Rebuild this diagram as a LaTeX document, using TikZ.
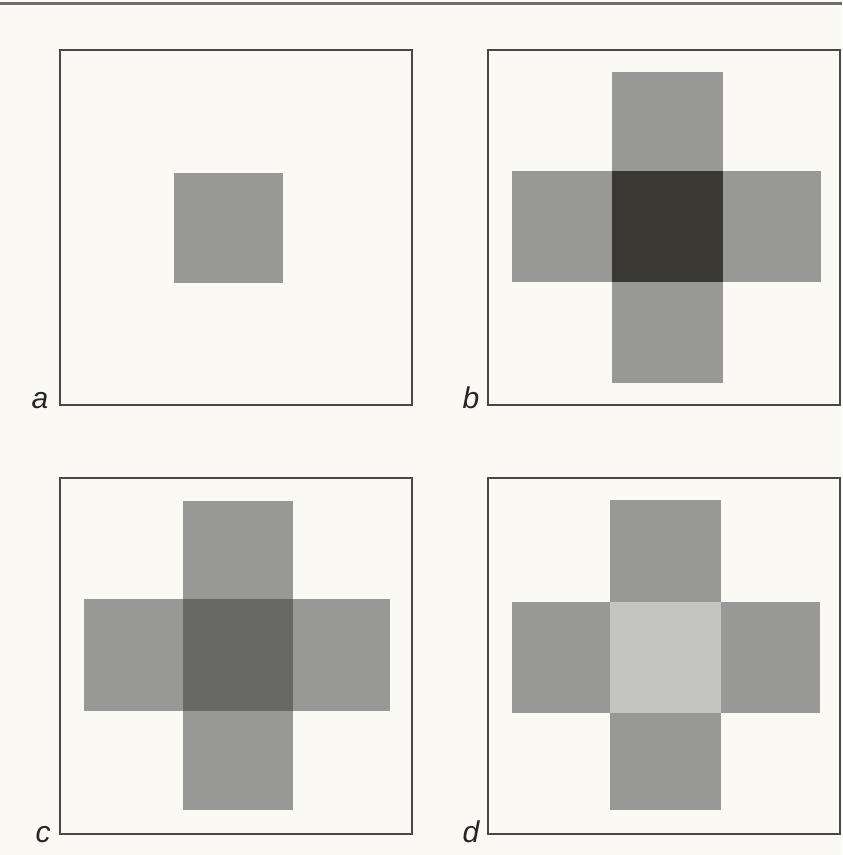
\documentclass[tikz,border=0pt]{standalone}
\usepackage{fontspec}
\setmainfont{Liberation Sans}
\usepackage{xcolor}
\usepackage{tikz}
\usetikzlibrary{positioning}
\definecolor{mypaper}{RGB}{250,249,244}
\definecolor{myframe}{RGB}{72,72,72}
\definecolor{myarm}{RGB}{152,152,150}
\definecolor{mydark}{RGB}{58,56,50}
\definecolor{mymid}{RGB}{104,104,102}
\definecolor{mylight}{RGB}{196,196,194}
\tikzset{
  panel/.style={draw=myframe, line width=1.2pt},
  arm/.style={fill=myarm},
  tag/.style={anchor=base, font=\fontsize{15}{17}\selectfont\itshape, text=black!85, inner sep=0pt}
}

\begin{document}
\begin{tikzpicture}[x=0.5pt, y=-0.5pt]
  \useasboundingbox[fill=mypaper] (0,0) rectangle (842,855);
  \draw[myframe!80, line width=1.5pt] (0,4) -- (842,4);

  % a: single square
  \draw[panel] (60,50) rectangle (412,405);
  \fill[arm] (174,173) rectangle (283,283);
  \node[tag] (la) at (40,408) {a};

  % b: cross, dark centre
  \draw[panel] (488,50) rectangle (840,405);
  \fill[arm] (612,72) rectangle (723,383);
  \fill[arm] (512,171) rectangle (821,282);
  \fill[mydark] (612,171) rectangle (723,282);
  \node[tag] (lb) at (471,408) {b};

  % c: cross, mid centre
  \draw[panel] (60,478) rectangle (412,834);
  \fill[arm] (183,501) rectangle (293,810);
  \fill[arm] (84,599) rectangle (390,711);
  \fill[mymid] (183,599) rectangle (293,711);
  \node[tag] (lc) at (43,842) {c};

  % d: cross, light centre
  \draw[panel] (488,478) rectangle (840,834);
  \fill[arm] (610,500) rectangle (721,810);
  \fill[arm] (512,602) rectangle (820,713);
  \fill[mylight] (610,602) rectangle (721,713);
  \node[tag] (ld) at (471,842) {d};
\end{tikzpicture}
\end{document}
